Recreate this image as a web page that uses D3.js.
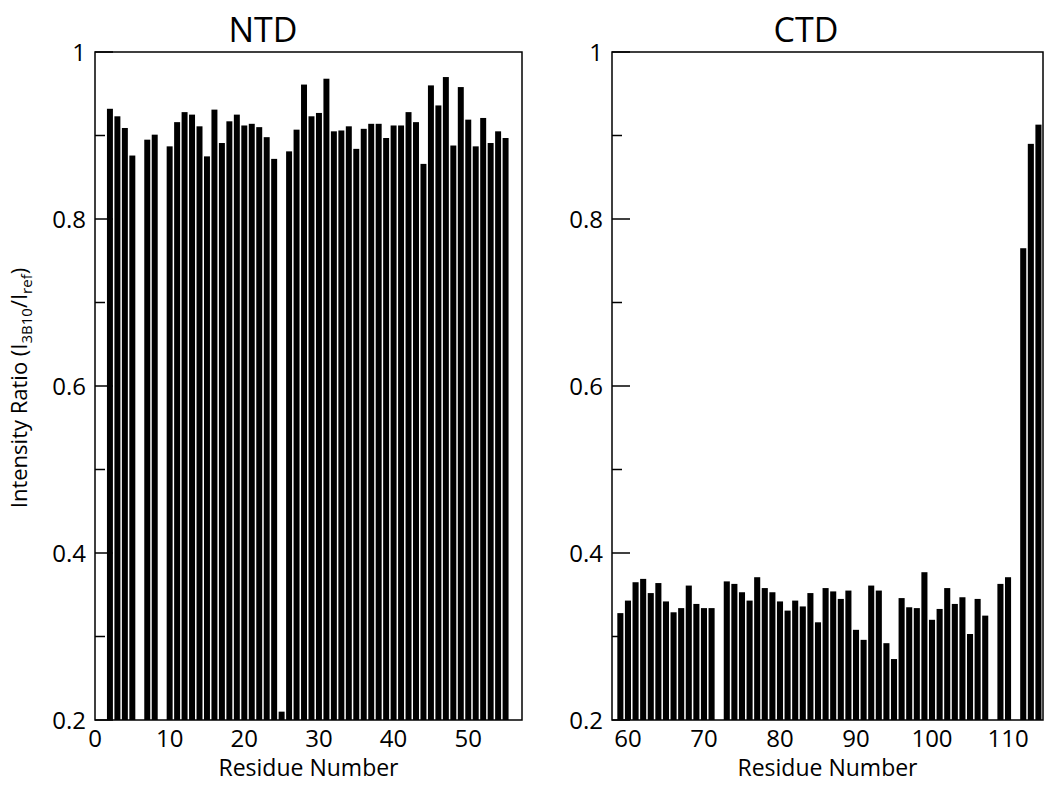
<!DOCTYPE html>
<html>
<head>
<meta charset="utf-8">
<script src="https://cdn.jsdelivr.net/npm/d3@7"></script>
<style>
  body { margin: 0; background: #fff; }
  svg { display: block; font-family: 'Open Sans', 'DejaVu Sans', sans-serif; }
  .frame { fill: none; stroke: #000; stroke-width: 1.5; }
  .bar { fill: #000; }
  .tick-line { stroke: #000; stroke-width: 1.5; }
  .tick-label { font-size: 24px; fill: #000; }
  .title { font-size: 34px; fill: #000; }
  .axis-title { font-size: 23px; fill: #000; }
</style>
</head>
<body>
<div id="chart"></div>
<script>
// NTD residues and intensity ratios (residues 1, 6, 9 not observed)
const ntdResidues = [2, 3, 4, 5, 7, 8, 10, 11, 12, 13, 14, 15, 16, 17, 18, 19, 20, 21, 22, 23, 24, 25,
  26, 27, 28, 29, 30, 31, 32, 33, 34, 35, 36, 37, 38, 39, 40, 41, 42, 43, 44, 45, 46, 47, 48, 49,
  50, 51, 52, 53, 54, 55];
const ntdRatio = [0.932, 0.923, 0.909, 0.876, 0.895, 0.901, 0.887, 0.916, 0.928, 0.925, 0.911, 0.875,
  0.931, 0.891, 0.917, 0.925, 0.912, 0.914, 0.910, 0.898, 0.872, 0.21,
  0.881, 0.907, 0.961, 0.923, 0.927, 0.968, 0.905, 0.906, 0.911, 0.884, 0.908, 0.914, 0.914, 0.897,
  0.912, 0.912, 0.928, 0.916, 0.866, 0.960, 0.936, 0.970, 0.888, 0.958, 0.919, 0.887, 0.921, 0.891,
  0.905, 0.897];

// CTD residues and intensity ratios (72, 108, 111 not observed)
const ctdResidues = [59, 60, 61, 62, 63, 64, 65, 66, 67, 68, 69, 70, 71, 73, 74, 75, 76, 77, 78, 79,
  80, 81, 82, 83, 84, 85, 86, 87, 88, 89, 90, 91, 92, 93, 94, 95, 96, 97, 98, 99, 100, 101, 102, 103,
  104, 105, 106, 107, 109, 110, 112, 113, 114];
const ctdRatio = [0.328, 0.343, 0.365, 0.369, 0.352, 0.364, 0.342, 0.329, 0.334, 0.361, 0.339, 0.334,
  0.334, 0.366, 0.363, 0.353, 0.343, 0.371, 0.358, 0.353, 0.342, 0.331, 0.343, 0.336, 0.352, 0.317,
  0.358, 0.354, 0.345, 0.355, 0.308, 0.296, 0.361, 0.355, 0.292, 0.273, 0.346, 0.335, 0.334, 0.377,
  0.320, 0.333, 0.358, 0.339, 0.347, 0.303, 0.345, 0.325, 0.363, 0.371, 0.765, 0.890, 0.913];

const ntdTicks = [0, 10, 20, 30, 40, 50];
const ctdTicks = [60, 70, 80, 90, 100, 110];
const yMajor = [0.2, 0.4, 0.6, 0.8, 1];
const yMinor = [0.3, 0.5, 0.7, 0.9];

const width = 1050;
const height = 785;

const svg = d3.select('#chart')
  .append('svg')
  .attr('width', width)
  .attr('height', height);

const y = d3.scaleLinear()
  .domain([0.2, 1])
  .range([720, 52]);

const yFormat = d => d === 1 ? '1' : d3.format('.1f')(d);

const renderPanel = (residues, values, domain, range, xTicks, title, titleX) => {
  const x = d3.scaleLinear()
    .domain(domain)
    .range(range);

  const g = svg.append('g');
  const left = range[0];
  const barW = (x(1) - x(0)) * 0.8;

  // y ticks, pointing in
  g.selectAll('.major')
    .data(yMajor)
    .enter().append('line')
    .attr('class', 'tick-line')
    .attr('x1', left).attr('x2', left + 18)
    .attr('y1', d => y(d)).attr('y2', d => y(d));

  g.selectAll('.minor')
    .data(yMinor)
    .enter().append('line')
    .attr('class', 'tick-line')
    .attr('x1', left).attr('x2', left + 10)
    .attr('y1', d => y(d)).attr('y2', d => y(d));

  g.selectAll('.bar')
    .data(residues)
    .enter().append('rect')
    .attr('class', 'bar')
    .attr('x', d => x(d) - barW / 2)
    .attr('width', barW)
    .attr('y', (d, i) => y(values[i]))
    .attr('height', (d, i) => y(0.2) - y(values[i]));

  g.append('rect')
    .attr('class', 'frame')
    .attr('x', range[0])
    .attr('y', y(1))
    .attr('width', range[1] - range[0])
    .attr('height', y(0.2) - y(1));

  g.selectAll('.ylab')
    .data(yMajor)
    .enter().append('text')
    .attr('class', 'tick-label')
    .attr('x', left - 9)
    .attr('y', d => y(d))
    .attr('dy', '0.36em')
    .attr('text-anchor', 'end')
    .text(yFormat);

  g.selectAll('.xlab')
    .data(xTicks)
    .enter().append('text')
    .attr('class', 'tick-label')
    .attr('x', d => x(d))
    .attr('y', 747)
    .attr('text-anchor', 'middle')
    .text(d => d);

  g.append('text')
    .attr('class', 'axis-title')
    .attr('x', (range[0] + range[1]) / 2)
    .attr('y', 776)
    .attr('text-anchor', 'middle')
    .text('Residue Number');

  g.append('text')
    .attr('class', 'title')
    .attr('x', titleX)
    .attr('y', 42)
    .attr('text-anchor', 'middle')
    .text(title);
};

renderPanel(ntdResidues, ntdRatio, [0, 57.2], [95, 522], ntdTicks, 'NTD', 263);
renderPanel(ctdResidues, ctdRatio, [57.9, 114.6], [612, 1043], ctdTicks, 'CTD', 806);

// shared y axis title with subscripts
const yTitle = svg.append('text')
  .attr('class', 'axis-title')
  .style('font-size', '22px')
  .attr('transform', 'translate(27,388) rotate(-90)')
  .attr('text-anchor', 'middle');

yTitle.append('tspan').text('Intensity Ratio (I');
yTitle.append('tspan').attr('dy', 5).style('font-size', '15px').text('3B10');
yTitle.append('tspan').attr('dy', -5).text('/I');
yTitle.append('tspan').attr('dy', 5).style('font-size', '15px').text('ref');
yTitle.append('tspan').attr('dy', -5).text(')');
</script>
</body>
</html>
